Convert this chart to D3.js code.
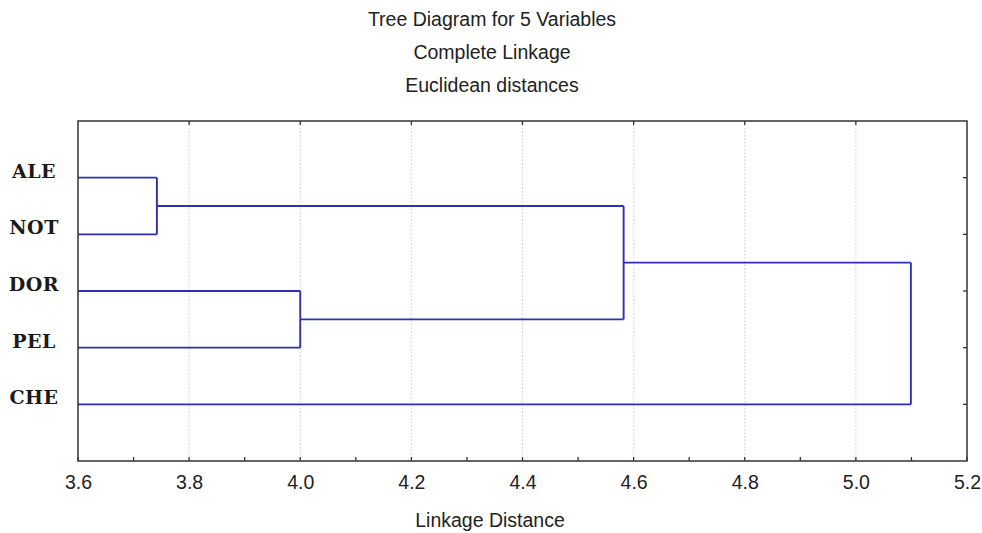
<!DOCTYPE html>
<html>
<head>
<meta charset="utf-8">
<script src="https://cdn.jsdelivr.net/npm/d3@7"></script>
<style>
  body { margin: 0; background: #fff; }
  svg { display: block; }
</style>
</head>
<body>
<div id="chart"></div>
<script>
const SIZE = { width: 982, height: 533 }
const MARGIN = { top: 121, right: 15, bottom: 72, left: 78 }

const titles = ['Tree Diagram for 5 Variables', 'Complete Linkage', 'Euclidean distances']
const xLabel = 'Linkage Distance'
const leaves = ['ALE', 'NOT', 'DOR', 'PEL', 'CHE']
// each merge: [left child, right child, linkage distance]; children are leaf names or merge index
const merges = [
  ['ALE', 'NOT', 3.742],
  ['DOR', 'PEL', 4.0],
  [0, 1, 4.582],
  [2, 'CHE', 5.099],
]
const xDomain = [3.6, 5.2]
const majorTicks = [3.6, 3.8, 4.0, 4.2, 4.4, 4.6, 4.8, 5.0, 5.2]
const minorTicks = [3.7, 3.9, 4.1, 4.3, 4.5, 4.7, 4.9, 5.1]

function buildTree () {
  const node = ref => typeof ref === 'string'
    ? { name: ref, height: xDomain[0] }
    : { height: merges[ref][2], children: [node(merges[ref][0]), node(merges[ref][1])] }
  return d3.hierarchy(node(merges.length - 1))
}

const W = SIZE.width - MARGIN.left - MARGIN.right
const H = SIZE.height - MARGIN.top - MARGIN.bottom

const svg = d3.select('#chart')
  .append('svg')
  .attr('width', SIZE.width)
  .attr('height', SIZE.height)

const x = d3.scaleLinear().domain(xDomain).range([0, W])
const y = d3.scalePoint().domain(leaves).range([0, H]).padding(1)

const g = svg.append('g').attr('transform', `translate(${MARGIN.left},${MARGIN.top})`)

// dotted grid
g.selectAll('line.grid')
  .data(majorTicks.slice(1, -1))
  .enter().append('line')
  .attr('class', 'grid')
  .attr('x1', d => x(d)).attr('x2', d => x(d))
  .attr('y1', 0).attr('y2', H)
  .attr('stroke', '#cfcfcf')
  .attr('stroke-width', 1)
  .attr('stroke-dasharray', '1.5,2')

// dendrogram
const root = buildTree()
root.eachAfter(d => {
  d.px = x(d.data.height)
  d.py = d.children ? d3.mean(d.children, c => c.py) : y(d.data.name)
})

const paths = []
root.each(d => {
  if (!d.children) return
  const ys = d.children.map(c => c.py)
  paths.push(`M${d.px},${d3.min(ys)}V${d3.max(ys)}`)
  d.children.forEach(c => paths.push(`M${c.px},${c.py}H${d.px}`))
})

g.selectAll('path.link')
  .data(paths)
  .enter().append('path')
  .attr('class', 'link')
  .attr('d', d => d)
  .attr('fill', 'none')
  .attr('stroke', '#2f2fb4')
  .attr('stroke-width', 1.9)

// frame
g.append('rect')
  .attr('width', W).attr('height', H)
  .attr('fill', 'none')
  .attr('stroke', '#333')
  .attr('stroke-width', 1.5)

// bottom axis, ticks pointing in
const bottom = g.append('g').attr('transform', `translate(0,${H})`)
bottom.call(d3.axisBottom(x).tickValues(majorTicks).tickSize(0).tickFormat(d3.format('.1f')).tickPadding(14))
bottom.select('.domain').remove()
bottom.selectAll('text')
  .attr('font-family', 'Liberation Sans, Arial, sans-serif')
  .attr('font-size', 19.5)
  .attr('fill', '#222')
bottom.selectAll('line.tk')
  .data(majorTicks.concat(minorTicks))
  .enter().append('line')
  .attr('class', 'tk')
  .attr('x1', d => x(d)).attr('x2', d => x(d))
  .attr('y1', 0).attr('y2', -4)
  .attr('stroke', '#333').attr('stroke-width', 1.3)

// top ticks
g.selectAll('line.toptk')
  .data(majorTicks.slice(1, -1))
  .enter().append('line')
  .attr('class', 'toptk')
  .attr('x1', d => x(d)).attr('x2', d => x(d))
  .attr('y1', 0).attr('y2', 4)
  .attr('stroke', '#333').attr('stroke-width', 1.3)

// right ticks
g.selectAll('line.rtk')
  .data(leaves)
  .enter().append('line')
  .attr('class', 'rtk')
  .attr('x1', W).attr('x2', W - 4)
  .attr('y1', d => y(d)).attr('y2', d => y(d))
  .attr('stroke', '#333').attr('stroke-width', 1.3)

// leaf labels
svg.selectAll('text.leaf')
  .data(leaves)
  .enter().append('text')
  .attr('class', 'leaf')
  .attr('x', 34)
  .attr('y', d => MARGIN.top + y(d))
  .attr('text-anchor', 'middle')
  .attr('font-family', 'DejaVu Serif, serif')
  .attr('font-weight', 'bold')
  .attr('font-size', 19)
  .attr('letter-spacing', 0.5)
  .attr('fill', '#1a1a1a')
  .text(d => d)

// titles
svg.selectAll('text.title')
  .data(titles)
  .enter().append('text')
  .attr('class', 'title')
  .attr('x', 492)
  .attr('y', (d, i) => 26 + i * 33)
  .attr('text-anchor', 'middle')
  .attr('font-family', 'Liberation Sans, Arial, sans-serif')
  .attr('font-size', 19.5)
  .attr('fill', '#222')
  .text(d => d)

svg.append('text')
  .attr('x', 490)
  .attr('y', 527)
  .attr('text-anchor', 'middle')
  .attr('font-family', 'Liberation Sans, Arial, sans-serif')
  .attr('font-size', 19.5)
  .attr('fill', '#222')
  .text(xLabel)
</script>
</body>
</html>
